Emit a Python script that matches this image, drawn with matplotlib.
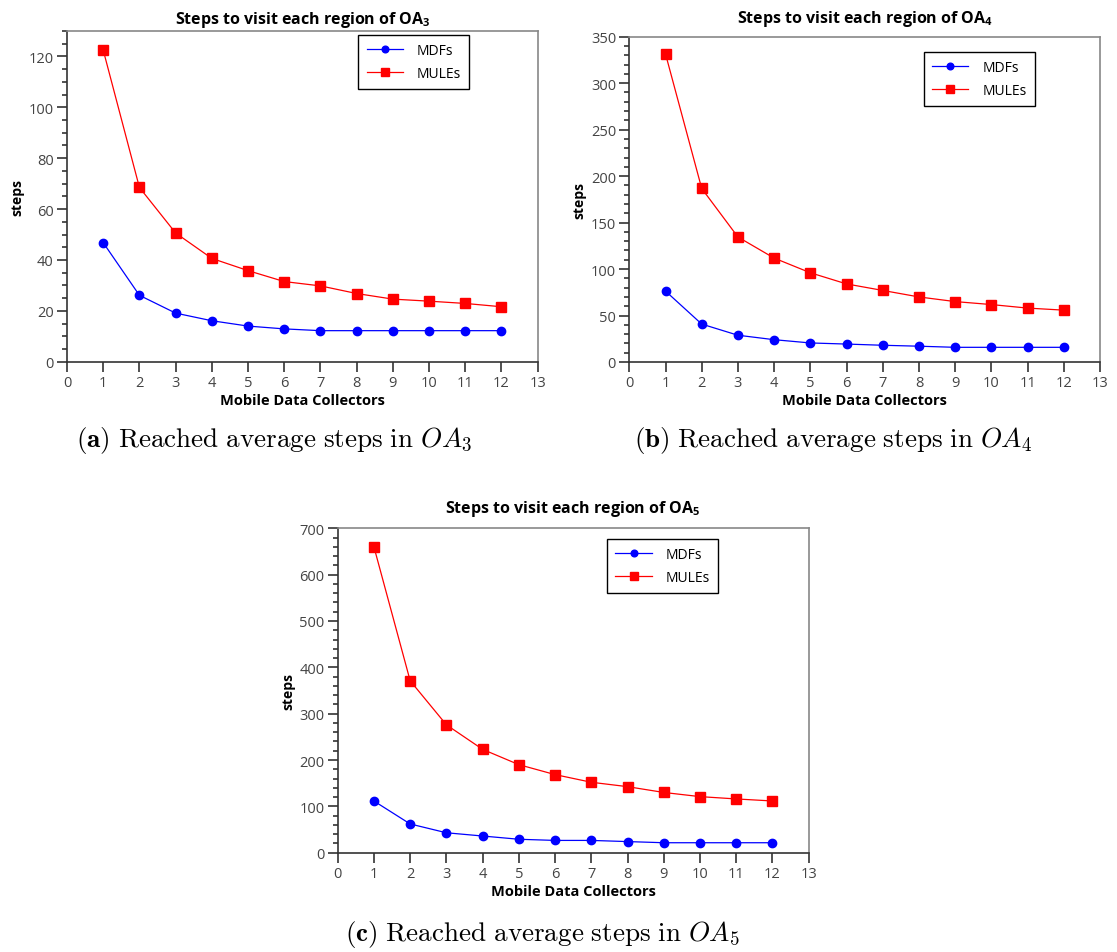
import matplotlib
matplotlib.use("Agg")
import matplotlib.pyplot as plt
from matplotlib.ticker import MultipleLocator

plt.rcParams['font.family'] = ['Open Sans', 'DejaVu Sans']
plt.rcParams['mathtext.fontset'] = 'custom'
plt.rcParams['mathtext.rm'] = 'Open Sans'
plt.rcParams['mathtext.bf'] = 'Open Sans:bold'

collectors = [1, 2, 3, 4, 5, 6, 7, 8, 9, 10, 11, 12]

mdf_oa3 = [46.8, 26.1, 19.1, 16.1, 14.0, 12.9, 12.2, 12.2, 12.2, 12.2, 12.2, 12.2]
mule_oa3 = [122.5, 68.5, 50.6, 40.6, 35.8, 31.5, 29.8, 26.8, 24.6, 23.8, 22.9, 21.6]

mdf_oa4 = [76.3, 40.8, 28.8, 24.0, 20.5, 19.3, 18.0, 17.0, 15.8, 15.8, 15.8, 15.8]
mule_oa4 = [331.5, 186.7, 134.5, 111.8, 96.0, 84.0, 77.0, 70.0, 65.0, 61.8, 58.0, 55.8]

mdf_oa5 = [111.5, 62.0, 43.0, 36.0, 29.0, 26.5, 26.5, 24.0, 21.5, 21.5, 21.5, 21.5]
mule_oa5 = [660.0, 371.0, 276.0, 223.0, 190.0, 168.5, 152.0, 142.5, 130.0, 121.0, 116.0, 111.6]

series_labels = ["MDFs", "MULEs"]
titles = [r"Steps to visit each region of OA$_\mathbf{3}$",
          r"Steps to visit each region of OA$_\mathbf{4}$",
          r"Steps to visit each region of OA$_\mathbf{5}$"]
captions = [r"$\mathbf{(a)}\ \mathrm{Reached\ average\ steps\ in}\ OA_3$",
            r"$\mathbf{(b)}\ \mathrm{Reached\ average\ steps\ in}\ OA_4$",
            r"$\mathbf{(c)}\ \mathrm{Reached\ average\ steps\ in}\ OA_5$"]
ylims = [130, 350, 700]
ymajor = [20, 50, 100]
yminor = [5, 10, 20]

W, H = 1117, 953
fig = plt.figure(figsize=(W / 100, H / 100), dpi=100)

rects = [
    [67 / W, 1 - 362.7 / H, 470.7 / W, 330.7 / H],
    [629.3 / W, 1 - 363 / H, 470.7 / W, 325.3 / H],
    [337.7 / W, 1 - 853.7 / H, 471 / W, 324.4 / H],
]
title_pad = [6, 10.5, 11.5]
legend_anchor = [(0.619, 0.989), (0.626, 0.953), (0.572, 0.967)]
caption_pos = [(274 / W, 1 - 441 / H), (833 / W, 1 - 441 / H), (542 / W, 1 - 935 / H)]

data = [(mdf_oa3, mule_oa3), (mdf_oa4, mule_oa4), (mdf_oa5, mule_oa5)]

for i in range(3):
    ax = fig.add_axes(rects[i])
    mdf, mule = data[i]
    ax.plot(collectors, mdf, color='#0000ff', marker='o', markersize=6,
            linewidth=0.9, label=series_labels[0])
    ax.plot(collectors, mule, color='#ff0000', marker='s', markersize=6.5,
            linewidth=0.9, label=series_labels[1])
    ax.set_xlim(0, 13)
    ax.set_ylim(0, ylims[i])
    ax.xaxis.set_major_locator(MultipleLocator(1))
    ax.yaxis.set_major_locator(MultipleLocator(ymajor[i]))
    ax.yaxis.set_minor_locator(MultipleLocator(yminor[i]))
    ax.tick_params(axis='both', which='major', direction='out', length=7.5,
                   width=1.1, color='#222222', labelsize=10.5, labelcolor='#444444', pad=2)
    ax.tick_params(axis='y', which='minor', direction='out', length=3.8,
                   width=1.1, color='#222222')
    for s in ['left', 'bottom']:
        ax.spines[s].set_color('#333333')
        ax.spines[s].set_linewidth(1.2)
    for s in ['top', 'right']:
        ax.spines[s].set_color('#888888')
        ax.spines[s].set_linewidth(1.2)
    ax.set_title(titles[i], fontsize=11.5, fontweight='bold', pad=title_pad[i])
    ax.set_xlabel("Mobile Data Collectors", fontsize=10.5, fontweight='bold', labelpad=2)
    ax.set_ylabel("steps", fontsize=10, fontweight='bold', labelpad=3)
    leg = ax.legend(loc='upper left', bbox_to_anchor=legend_anchor[i], fancybox=False,
                    edgecolor='black', framealpha=1, fontsize=10, handlelength=2.6,
                    labelspacing=0.55, borderpad=0.6, handletextpad=1.0, borderaxespad=0,
                    markerscale=0.8)
    leg.get_frame().set_linewidth(1.0)
    fig.text(caption_pos[i][0], caption_pos[i][1], captions[i], fontsize=19.5,
             ha='center', va='center', math_fontfamily='cm')

fig.savefig("out.png", dpi=100)
